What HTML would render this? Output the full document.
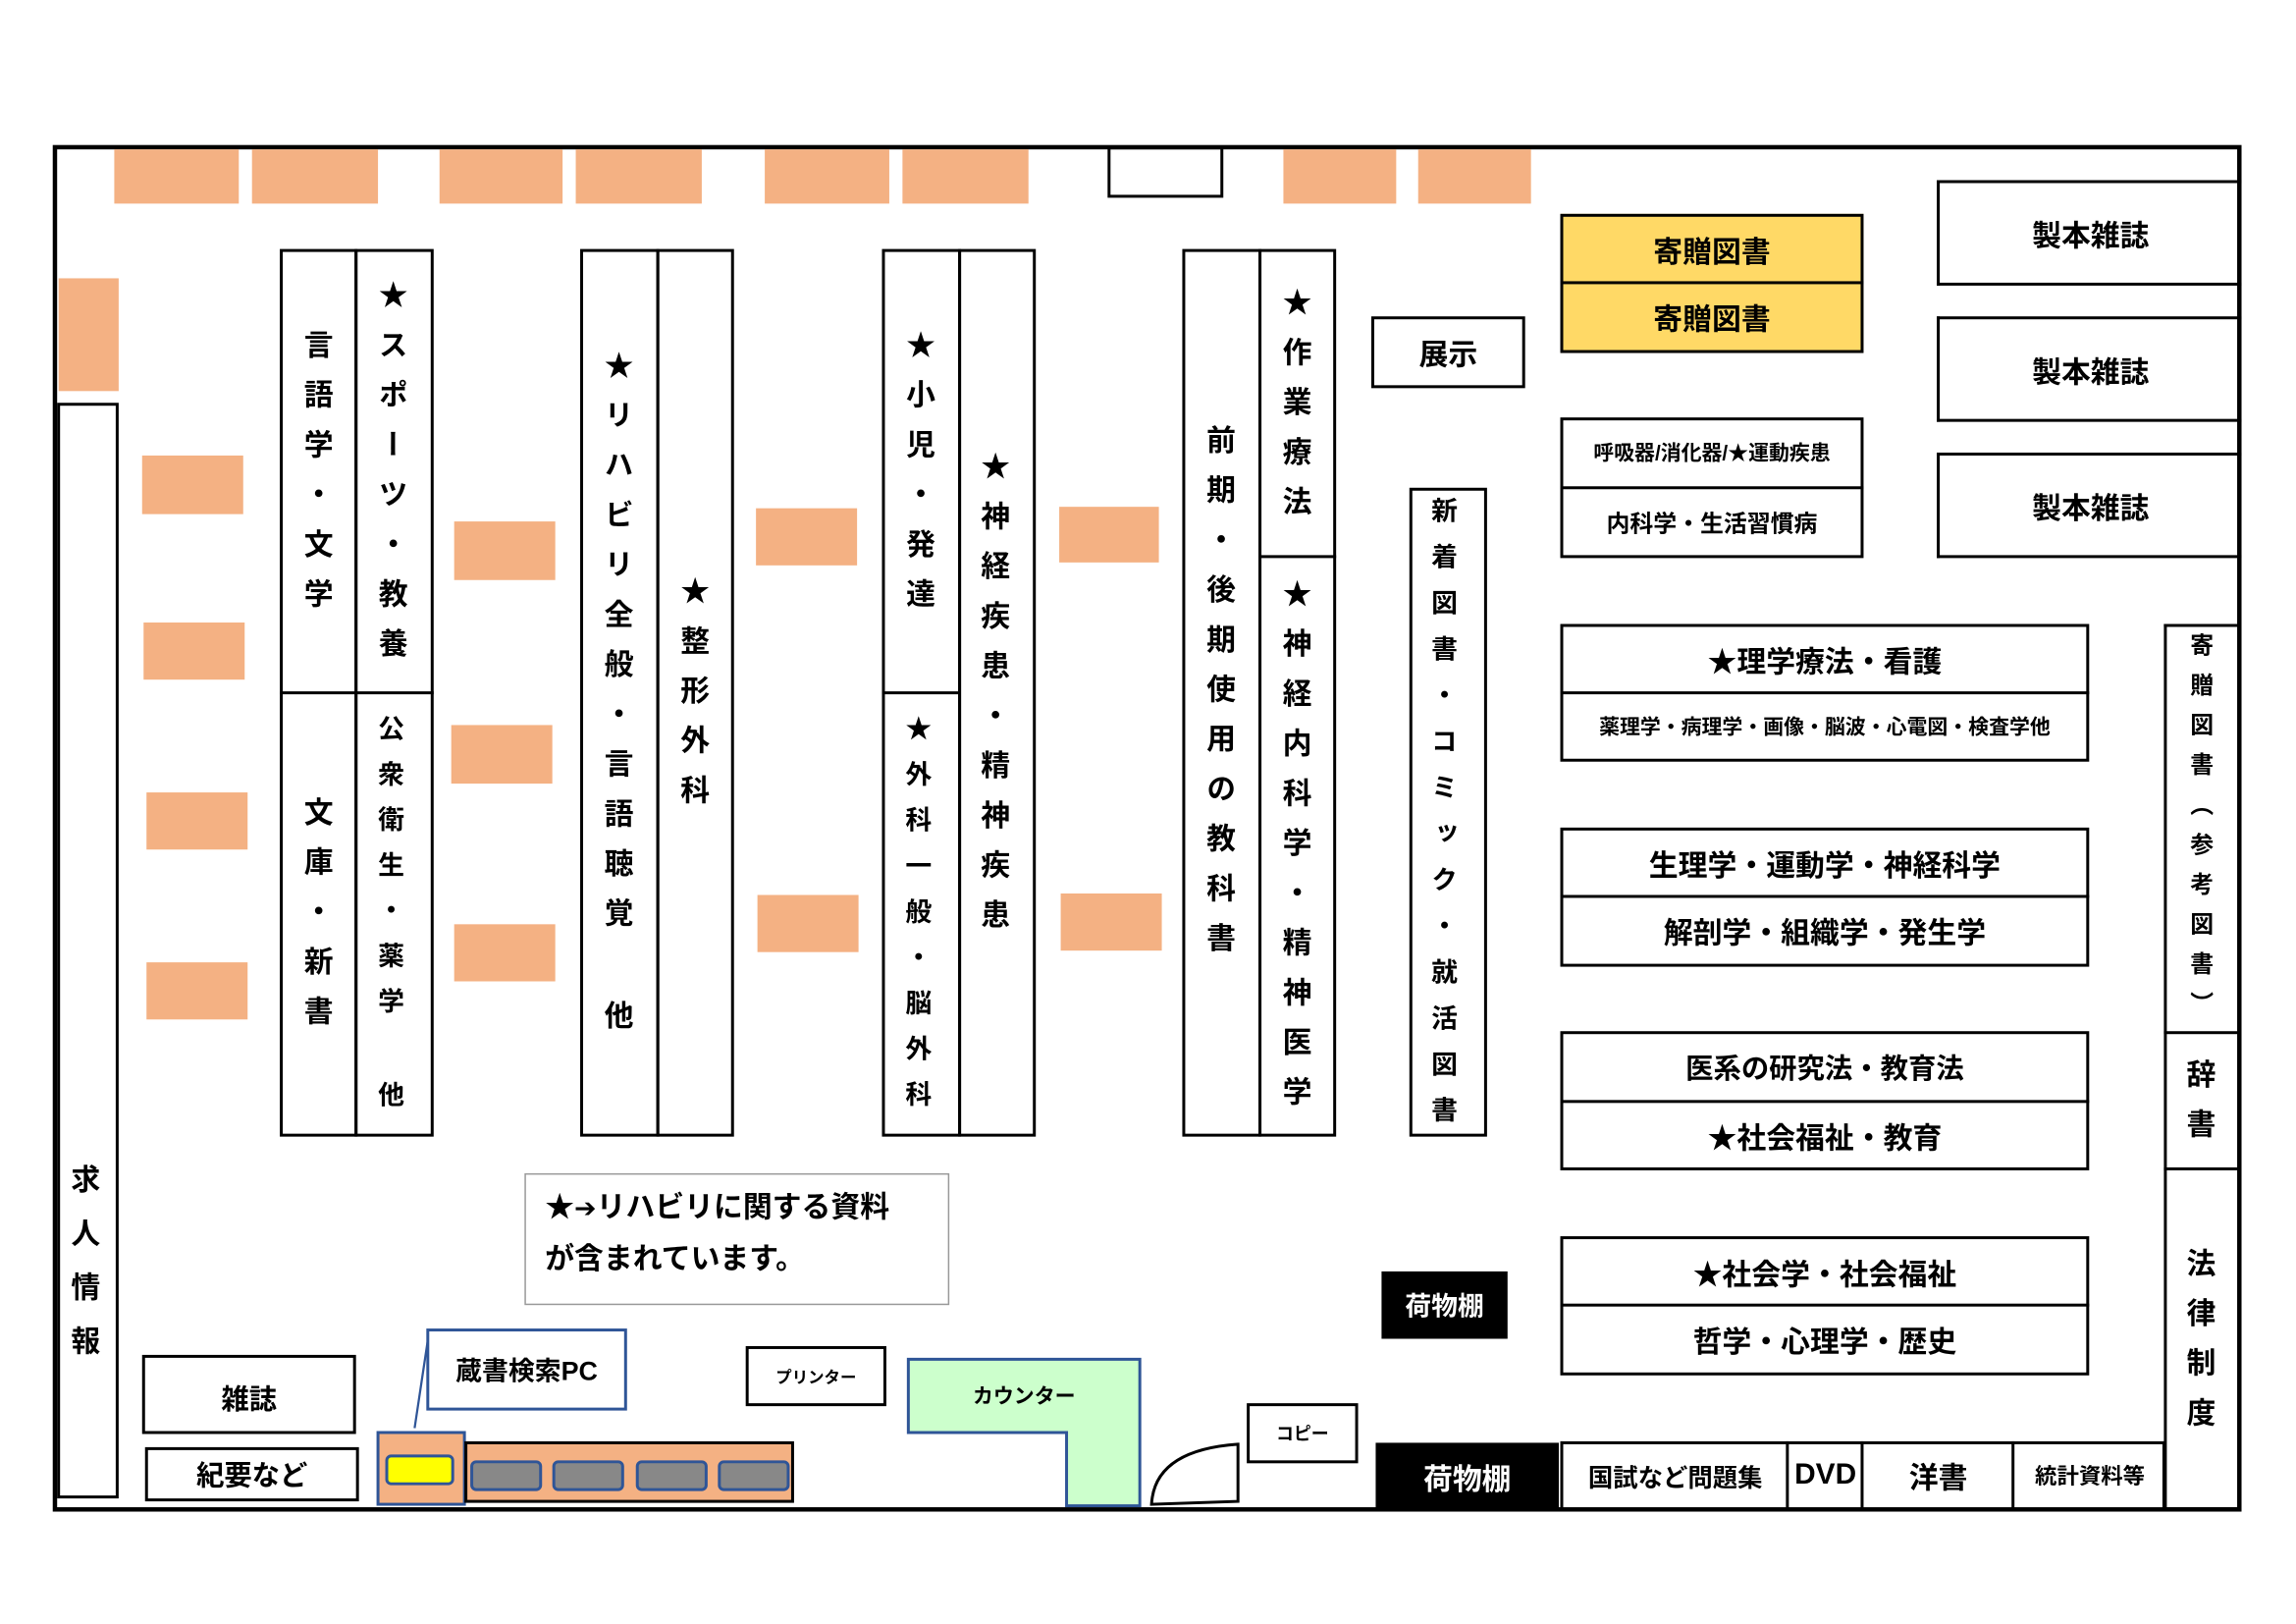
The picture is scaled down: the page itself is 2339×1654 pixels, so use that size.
<!DOCTYPE html>
<html><head><meta charset="utf-8"><style>
html,body{margin:0;padding:0;background:#fff;}
body{width:2339px;height:1654px;overflow:hidden;position:relative;}
#s{position:absolute;left:0;top:0;width:1560px;height:1103px;transform-origin:0 0;transform:scale(1.4925,1.4918);font-family:"Liberation Sans","Noto Sans CJK JP",sans-serif;font-weight:bold;color:#000;}
.a{position:absolute;box-sizing:border-box;}
.b{border:2px solid #000;}
.o{position:absolute;background:#F4B183;}
.v{position:absolute;writing-mode:vertical-rl;font-size:20px;letter-spacing:14px;line-height:1;transform:translateX(calc(-50% - 3px));white-space:nowrap;}
.t{position:absolute;display:flex;align-items:center;justify-content:center;white-space:nowrap;box-sizing:border-box;}
</style></head><body><div id="s">
<div class="a" style="left:36px;top:99px;width:1494px;height:933px;border:3px solid #000;"></div>
<div class="o" style="left:78px;top:102px;width:85px;height:37px"></div>
<div class="o" style="left:172px;top:102px;width:86px;height:37px"></div>
<div class="o" style="left:300px;top:102px;width:84px;height:37px"></div>
<div class="o" style="left:393px;top:102px;width:86px;height:37px"></div>
<div class="o" style="left:522px;top:102px;width:85px;height:37px"></div>
<div class="o" style="left:616px;top:102px;width:86px;height:37px"></div>
<div class="o" style="left:876px;top:102px;width:77px;height:37px"></div>
<div class="o" style="left:968px;top:102px;width:77px;height:37px"></div>
<div class="a b" style="left:756px;top:100px;width:79px;height:35px;"></div>
<div class="o" style="left:40px;top:190px;width:41px;height:77px"></div>
<div class="a b" style="left:39px;top:275px;width:42px;height:748px;"></div>
<div class="v" style="left:59px;top:795px;letter-spacing:16.7px;">求人情報</div>
<div class="o" style="left:97px;top:311px;width:69px;height:40px"></div>
<div class="o" style="left:98px;top:425px;width:69px;height:39px"></div>
<div class="o" style="left:100px;top:541px;width:69px;height:39px"></div>
<div class="o" style="left:100px;top:657px;width:69px;height:39px"></div>
<div class="o" style="left:310px;top:356px;width:69px;height:40px"></div>
<div class="o" style="left:308px;top:495px;width:69px;height:40px"></div>
<div class="o" style="left:310px;top:631px;width:69px;height:39px"></div>
<div class="o" style="left:516px;top:347px;width:69px;height:39px"></div>
<div class="o" style="left:517px;top:611px;width:69px;height:39px"></div>
<div class="o" style="left:723px;top:346px;width:68px;height:38px"></div>
<div class="o" style="left:724px;top:610px;width:69px;height:39px"></div>
<div class="a b" style="left:191px;top:170px;width:53px;height:606px;"></div>
<div class="a b" style="left:242px;top:170px;width:54px;height:606px;"></div>
<div class="a" style="left:191px;top:472px;width:105px;height:2px;background:#000"></div>
<div class="v" style="left:218px;top:225px;">言語学・文学</div>
<div class="v" style="left:269px;top:191px;">★スポーツ・教養</div>
<div class="v" style="left:218px;top:544px;">文庫・新書</div>
<div class="v" style="left:269px;top:488px;font-size:18px;letter-spacing:13px;">公衆衛生・薬学</div>
<div class="v" style="left:269px;top:738px;font-size:18px;">他</div>
<div class="a b" style="left:396px;top:170px;width:54px;height:606px;"></div>
<div class="a b" style="left:448px;top:170px;width:53px;height:606px;"></div>
<div class="v" style="left:423px;top:239px;">★リハビリ全般・言語聴覚</div>
<div class="v" style="left:423px;top:683px;">他</div>
<div class="v" style="left:475px;top:393px;">★整形外科</div>
<div class="a b" style="left:602px;top:170px;width:54px;height:606px;"></div>
<div class="a b" style="left:654px;top:170px;width:53px;height:606px;"></div>
<div class="a" style="left:602px;top:472px;width:53px;height:2px;background:#000"></div>
<div class="v" style="left:629px;top:225px;">★小児・発達</div>
<div class="v" style="left:629px;top:488px;font-size:18px;letter-spacing:13.2px;">★外科一般・脳外科</div>
<div class="v" style="left:680px;top:308px;">★神経疾患・精神疾患</div>
<div class="a b" style="left:807px;top:170px;width:54px;height:606px;"></div>
<div class="a b" style="left:859px;top:170px;width:53px;height:606px;"></div>
<div class="a" style="left:859px;top:379px;width:53px;height:2px;background:#000"></div>
<div class="v" style="left:834px;top:290px;">前期・後期使用の教科書</div>
<div class="v" style="left:886px;top:196px;">★作業療法</div>
<div class="v" style="left:886px;top:395px;">★神経内科学・精神医学</div>
<div class="a b" style="left:962px;top:333px;width:53px;height:443px;"></div>
<div class="v" style="left:988px;top:339px;font-size:18px;letter-spacing:13.5px;">新着図書・コミック・就活図書</div>
<div class="t b" style="left:936px;top:216px;width:105px;height:49px;font-size:20px;">展示</div>
<div class="a b" style="left:1065px;top:146px;width:207px;height:95px;background:#FFD966;"></div>
<div class="a" style="left:1065px;top:192px;width:207px;height:2px;background:#000"></div>
<div class="t" style="left:1065px;top:147px;width:207px;height:46px;font-size:20px;">寄贈図書</div>
<div class="t" style="left:1065px;top:193px;width:207px;height:46px;font-size:20px;">寄贈図書</div>
<div class="a b" style="left:1065px;top:285px;width:207px;height:96px;"></div>
<div class="a" style="left:1065px;top:332px;width:207px;height:2px;background:#000"></div>
<div class="t" style="left:1065px;top:286px;width:207px;height:46px;font-size:14px;">呼吸器/消化器/★運動疾患</div>
<div class="t" style="left:1065px;top:333px;width:207px;height:46px;font-size:16px;">内科学・生活習慣病</div>
<div class="t b" style="left:1322px;top:123px;width:208px;height:72px;font-size:20px;border-right:none;">製本雑誌</div>
<div class="t b" style="left:1322px;top:216px;width:208px;height:72px;font-size:20px;border-right:none;">製本雑誌</div>
<div class="t b" style="left:1322px;top:309px;width:208px;height:72px;font-size:20px;border-right:none;">製本雑誌</div>
<div class="a b" style="left:1065px;top:426px;width:361px;height:94px;"></div>
<div class="a" style="left:1065px;top:472px;width:361px;height:2px;background:#000"></div>
<div class="t" style="left:1065px;top:427px;width:361px;height:46px;font-size:20px;">★理学療法・看護</div>
<div class="t" style="left:1065px;top:473px;width:361px;height:46px;font-size:14px;">薬理学・病理学・画像・脳波・心電図・検査学他</div>
<div class="a b" style="left:1065px;top:565px;width:361px;height:95px;"></div>
<div class="a" style="left:1065px;top:611px;width:361px;height:2px;background:#000"></div>
<div class="t" style="left:1065px;top:566px;width:361px;height:46px;font-size:20px;">生理学・運動学・神経科学</div>
<div class="t" style="left:1065px;top:612px;width:361px;height:46px;font-size:20px;">解剖学・組織学・発生学</div>
<div class="a b" style="left:1065px;top:704px;width:361px;height:95px;"></div>
<div class="a" style="left:1065px;top:751px;width:361px;height:2px;background:#000"></div>
<div class="t" style="left:1065px;top:705px;width:361px;height:46px;font-size:19px;">医系の研究法・教育法</div>
<div class="t" style="left:1065px;top:752px;width:361px;height:46px;font-size:20px;">★社会福祉・教育</div>
<div class="a b" style="left:1065px;top:844px;width:361px;height:95px;"></div>
<div class="a" style="left:1065px;top:890px;width:361px;height:2px;background:#000"></div>
<div class="t" style="left:1065px;top:845px;width:361px;height:46px;font-size:20px;">★社会学・社会福祉</div>
<div class="t" style="left:1065px;top:891px;width:361px;height:46px;font-size:20px;">哲学・心理学・歴史</div>
<div class="a b" style="left:1477px;top:426px;width:52px;height:605px;border-right:none;"></div>
<div class="a" style="left:1477px;top:704px;width:52px;height:2px;background:#000"></div>
<div class="a" style="left:1477px;top:797px;width:52px;height:2px;background:#000"></div>
<div class="v" style="left:1503px;top:432px;font-size:16px;letter-spacing:11.2px;">寄贈図書（参考図書）</div>
<div class="v" style="left:1503px;top:723px;">辞書</div>
<div class="v" style="left:1503px;top:852px;">法律制度</div>
<div class="a" style="left:358px;top:801px;width:290px;height:90px;border:1.5px solid #999;"></div>
<div class="a" style="left:372px;top:808px;font-size:20px;line-height:34px;white-space:nowrap;">★<span style="font-family:'DejaVu Sans',sans-serif;font-size:18px;">➔</span>リハビリに関する資料<br>が含まれています。</div>
<div class="t" style="left:943px;top:868px;width:86px;height:46px;background:#000;color:#fff;font-size:18px;">荷物棚</div>
<div class="t" style="left:939px;top:985px;width:125px;height:46px;background:#000;color:#fff;font-size:20px;">荷物棚</div>
<div class="a" style="left:1065px;top:984px;width:413px;height:47px;border:2px solid #000;border-bottom:none;"></div>
<div class="a" style="left:1219px;top:984px;width:2px;height:47px;background:#000"></div>
<div class="a" style="left:1270px;top:984px;width:2px;height:47px;background:#000"></div>
<div class="a" style="left:1373px;top:984px;width:2px;height:47px;background:#000"></div>
<div class="t" style="left:1067px;top:985px;width:153px;height:44px;font-size:17px;">国試など問題集</div>
<div class="t" style="left:1221px;top:985px;width:50px;height:44px;font-size:20px;">DVD</div>
<div class="t" style="left:1272px;top:985px;width:102px;height:44px;font-size:20px;">洋書</div>
<div class="t" style="left:1375px;top:985px;width:103px;height:44px;font-size:15px;">統計資料等</div>
<div class="t b" style="left:97px;top:925px;width:146px;height:54px;font-size:19px;padding-top:4px;">雑誌</div>
<div class="t b" style="left:99px;top:988px;width:146px;height:37px;font-size:19px;">紀要など</div>
<div class="t" style="left:291px;top:907px;width:137px;height:56px;border:2px solid #2F5597;font-size:18px;">蔵書検索PC</div>
<svg class="a" style="left:0;top:0" width="1560" height="1103">
<line x1="292" y1="915" x2="283" y2="975" stroke="#2F5597" stroke-width="1.5"/>
<rect x="258" y="978" width="59" height="49" fill="#F4B183" stroke="#2F5597" stroke-width="2"/>
<rect x="264" y="994" width="45" height="19" rx="3" fill="#FFFF00" stroke="#2F5597" stroke-width="2"/>
<rect x="318" y="985" width="223" height="40" fill="#F4B183" stroke="#000" stroke-width="2"/>
<rect x="322" y="998" width="47" height="19" rx="3" fill="#888" stroke="#2F5597" stroke-width="2"/>
<rect x="378" y="998" width="47" height="19" rx="3" fill="#888" stroke="#2F5597" stroke-width="2"/>
<rect x="435" y="998" width="47" height="19" rx="3" fill="#888" stroke="#2F5597" stroke-width="2"/>
<rect x="491" y="998" width="47" height="19" rx="3" fill="#888" stroke="#2F5597" stroke-width="2"/>
<polygon points="620,928 778,928 778,1028 728,1028 728,978 620,978" fill="#CCFFCC" stroke="#2F5597" stroke-width="2"/>
<path d="M786,1027 Q788,990 845,986 L845,1025 Z" fill="none" stroke="#000" stroke-width="2"/>
</svg>
<div class="t b" style="left:509px;top:919px;width:96px;height:41px;font-size:11px;">プリンター</div>
<div class="t" style="left:620px;top:930px;width:158px;height:46px;font-size:14px;">カウンター</div>
<div class="t b" style="left:851px;top:958px;width:76px;height:41px;font-size:12px;">コピー</div>
</div></body></html>
